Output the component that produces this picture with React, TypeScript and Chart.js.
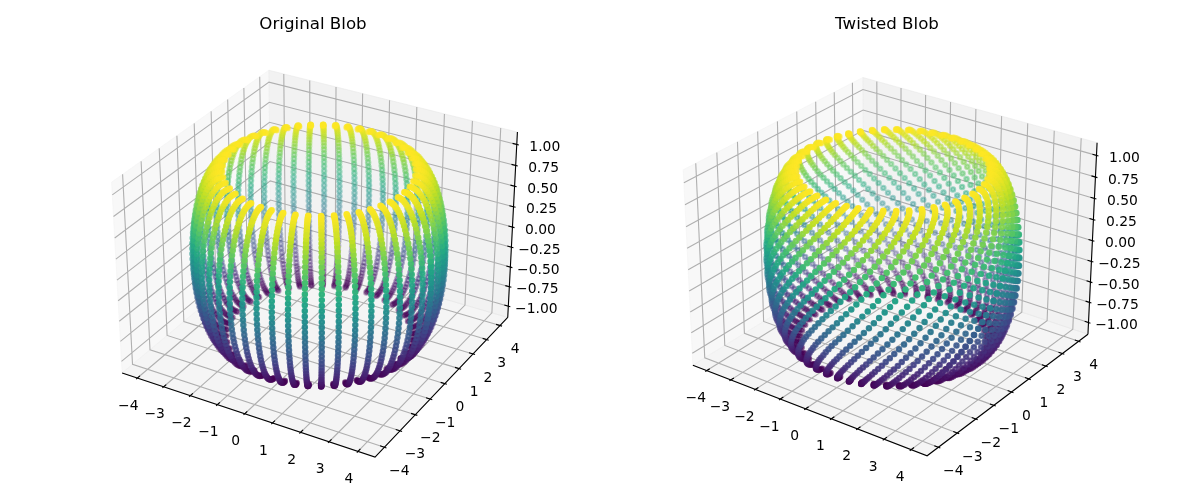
import React, { useEffect, useRef } from "react";
import { Chart, registerables } from "chart.js";

Chart.register(...registerables);

const xTicks = [-4, -3, -2, -1, 0, 1, 2, 3, 4];
const yTicks = [-4, -3, -2, -1, 0, 1, 2, 3, 4];
const zTicks = [-1, -0.75, -0.5, -0.25, 0, 0.25, 0.5, 0.75, 1];
const xTickLabels = ["−4", "−3", "−2", "−1", "0", "1", "2", "3", "4"];
const yTickLabels = ["−4", "−3", "−2", "−1", "0", "1", "2", "3", "4"];
const zTickLabels = ["−1.00", "−0.75", "−0.50", "−0.25", "0.00", "0.25", "0.50", "0.75", "1.00"];

// height of each ring of points, top to bottom
const ringHeights = [
  1, 0.9979, 0.9918, 0.9816, 0.9673, 0.9491, 0.9269, 0.901, 0.8713, 0.8382, 0.8017, 0.7614, 0.7183, 0.6723, 0.6235,
  0.5721, 0.5184, 0.4625, 0.4048, 0.3454, 0.2846, 0.2225, 0.1596, 0.096, 0.0321, -0.0321, -0.096, -0.1596, -0.2225,
  -0.2846, -0.3454, -0.4048, -0.4625, -0.5184, -0.5721, -0.6235, -0.6723, -0.7183, -0.7614, -0.8017, -0.8382, -0.8713,
  -0.901, -0.9269, -0.9491, -0.9673, -0.9816, -0.9918, -0.9979, -1,
];
// radius of each ring
const ringRadii = [
  3, 3.0641, 3.1279, 3.1912, 3.2537, 3.3151, 3.3753, 3.4339, 3.4907, 3.5455, 3.5981, 3.6481, 3.6957, 3.7403, 3.7818,
  3.8202, 3.8551, 3.8866, 3.9144, 3.9385, 3.9587, 3.9749, 3.9872, 3.9954, 3.9995, 3.9995, 3.9954, 3.9872, 3.9749,
  3.9587, 3.9385, 3.9144, 3.8866, 3.8551, 3.8202, 3.7818, 3.7403, 3.6957, 3.6481, 3.5981, 3.5455, 3.4907, 3.4339,
  3.3753, 3.3151, 3.2537, 3.1912, 3.1279, 3.0641, 3,
];
// rotation of each ring in the twisted blob, degrees
const ringTwist = [
  36.0, 35.9, 35.7, 35.3, 34.8, 34.2, 33.4, 32.4, 31.4, 30.2, 28.9, 27.4, 25.9, 24.2, 22.4, 20.6, 18.7, 16.7, 14.6,
  12.4, 10.2, 8.0, 5.7, 3.5, 1.2, -1.2, -3.5, -5.7, -8.0, -10.2, -12.4, -14.6, -16.7, -18.7, -20.6, -22.4, -24.2,
  -25.9, -27.4, -28.9, -30.2, -31.4, -32.4, -33.4, -34.2, -34.8, -35.3, -35.7, -35.9, -36.0,
];
const ringNoTwist = [
  0, 0, 0, 0, 0, 0, 0, 0, 0, 0, 0, 0, 0, 0, 0, 0, 0, 0, 0, 0, 0, 0, 0, 0, 0,
  0, 0, 0, 0, 0, 0, 0, 0, 0, 0, 0, 0, 0, 0, 0, 0, 0, 0, 0, 0, 0, 0, 0, 0, 0,
];
// direction of each meridian, degrees
const meridians = [
  0, 7.35, 14.69, 22.04, 29.39, 36.73, 44.08, 51.43, 58.78, 66.12, 73.47, 80.82, 88.16, 95.51, 102.86, 110.2, 117.55,
  124.9, 132.24, 139.59, 146.94, 154.29, 161.63, 168.98, 176.33, 183.67, 191.02, 198.37, 205.71, 213.06, 220.41,
  227.76, 235.1, 242.45, 249.8, 257.14, 264.49, 271.84, 279.18, 286.53, 293.88, 301.22, 308.57, 315.92, 323.27, 330.61,
  337.96, 345.31, 352.65, 360,
];
const viridis = [
  [68, 1, 84], [72, 36, 117], [65, 68, 135], [53, 95, 141], [42, 120, 142], [33, 145, 140],
  [34, 168, 132], [68, 191, 112], [122, 209, 81], [189, 223, 38], [253, 231, 37],
];

const XY_LIM = 4.4;
const Z_LIM = 1.1;
const XY_PANE = 4.583;
const Z_PANE = 1.1458;
const BOX_XY = 1.3073;
const BOX_Z = 0.9805;
const EYE_DIST = 10;
const CANVAS_W = 574;
const CANVAS_H = 500;
const TITLE_BOTTOM = 40;

type View = {
  title: string;
  left: number;
  elev: number;
  azim: number;
  scale: number;
  cx: number;
  cy: number;
  twist: number[];
  xOff: number[];
  yOff: number[];
  zOff: number[];
};

const views: View[] = [
  { title: "Original Blob", left: 26, elev: 30, azim: -60, scale: 2125, cx: 293, cy: 253, twist: ringNoTwist, xOff: [-9, 28], yOff: [15, 24], zOff: [28, 3] },
  { title: "Twisted Blob", left: 600, elev: 27, azim: -54, scale: 2125, cx: 293, cy: 255, twist: ringTwist, xOff: [-11, 28], yOff: [15, 24], zOff: [28, 3] },
];

function projector(view: View) {
  const e = (view.elev * Math.PI) / 180;
  const a = (view.azim * Math.PI) / 180;
  const w = [Math.cos(e) * Math.cos(a), Math.cos(e) * Math.sin(a), Math.sin(e)];
  const len = Math.hypot(w[0], w[1]);
  const u = [-w[1] / len, w[0] / len, 0];
  const v = [w[1] * u[2] - w[2] * u[1], w[2] * u[0] - w[0] * u[2], w[0] * u[1] - w[1] * u[0]];
  return (x: number, y: number, z: number) => {
    const q = [(x / (2 * XY_LIM)) * BOX_XY, (y / (2 * XY_LIM)) * BOX_XY, (z / (2 * Z_LIM)) * BOX_Z];
    const d = EYE_DIST - (w[0] * q[0] + w[1] * q[1] + w[2] * q[2]);
    return {
      x: (u[0] * q[0] + u[1] * q[1]) / d,
      y: (v[0] * q[0] + v[1] * q[1] + v[2] * q[2]) / d,
      d,
    };
  };
}

function viridisAt(t: number) {
  const p = Math.max(0, Math.min(1, t)) * (viridis.length - 1);
  const i = Math.min(viridis.length - 2, Math.floor(p));
  const f = p - i;
  return viridis[i].map((c, k) => Math.round(c + (viridis[i + 1][k] - c) * f));
}

function buildConfig(view: View) {
  const proj = projector(view);
  const P = XY_PANE;
  const Z = Z_PANE;
  const pt = (x: number, y: number, z: number) => {
    const p = proj(x, y, z);
    return { x: p.x, y: p.y };
  };
  const gap = { x: NaN, y: NaN };

  const raw: { x: number; y: number; d: number; c: number[] }[] = [];
  ringHeights.forEach((z, r) => {
    meridians.forEach((m) => {
      const th = ((m + view.twist[r]) * Math.PI) / 180;
      const p = proj(ringRadii[r] * Math.cos(th), ringRadii[r] * Math.sin(th), z);
      raw.push({ ...p, c: viridisAt((z + 1) / 2) });
    });
  });
  const ds = raw.map((p) => p.d);
  const dMin = Math.min(...ds);
  const dMax = Math.max(...ds);
  raw.sort((a, b) => b.d - a.d);
  const colors = raw.map((p) => {
    const alpha = 1 - (0.7 * (p.d - dMin)) / (dMax - dMin);
    return `rgba(${p.c[0]},${p.c[1]},${p.c[2]},${alpha.toFixed(3)})`;
  });

  const grid: { x: number; y: number }[] = [];
  xTicks.forEach((x) => grid.push(pt(x, -P, -Z), pt(x, P, -Z), pt(x, P, Z), gap));
  yTicks.forEach((y) => grid.push(pt(P, y, -Z), pt(-P, y, -Z), pt(-P, y, Z), gap));
  zTicks.forEach((z) => grid.push(pt(-P, -P, z), pt(-P, P, z), pt(P, P, z), gap));

  const spine = [
    pt(-P, -P, -Z), pt(P, -P, -Z), pt(P, P, -Z), gap,
    pt(P, P, -Z), pt(P, P, Z), gap,
  ];
  const tickOut = 0.0733;
  const tickIn = 0.1467;
  const ticks: { x: number; y: number }[] = [];
  xTicks.forEach((x) => ticks.push(pt(x, -P - tickOut, -Z), pt(x, -P + tickIn, -Z), gap));
  yTicks.forEach((y) => ticks.push(pt(P + tickOut, y, -Z), pt(P - tickIn, y, -Z), gap));
  zTicks.forEach((z) => ticks.push(pt(P + tickOut, P, z), pt(P - tickIn, P, z), gap));

  const lineSet = (label: string, data: any[], color: string, order: number) => ({
    label, data, showLine: true, borderColor: color, borderWidth: 1.11, pointRadius: 0, fill: false, order,
  });
  const paneSet = (label: string, data: any[], color: string) => ({
    label, data, showLine: true, borderColor: color, backgroundColor: color, borderWidth: 1, pointRadius: 0, fill: "shape", order: 4,
  });

  const labels = [
    ...xTicks.map((x, i) => ({ p: pt(x, -P, -Z), t: xTickLabels[i], o: view.xOff })),
    ...yTicks.map((y, i) => ({ p: pt(P, y, -Z), t: yTickLabels[i], o: view.yOff })),
    ...zTicks.map((z, i) => ({ p: pt(P, P, z), t: zTickLabels[i], o: view.zOff })),
  ];

  const tickText = {
    id: "tickText",
    afterDraw(chart: any) {
      const { ctx, scales } = chart;
      ctx.save();
      ctx.fillStyle = "#000";
      ctx.font = '13.89px "DejaVu Sans"';
      ctx.textAlign = "center";
      ctx.textBaseline = "middle";
      labels.forEach((l) => {
        ctx.fillText(l.t, scales.x.getPixelForValue(l.p.x) + l.o[0], scales.y.getPixelForValue(l.p.y) + l.o[1]);
      });
      ctx.restore();
    },
  };

  return {
    type: "scatter" as const,
    plugins: [tickText],
    data: {
      datasets: [
        {
          label: view.title,
          data: raw.map((p) => ({ x: p.x, y: p.y })),
          pointRadius: 2.2,
          pointBorderWidth: 2.08,
          pointBackgroundColor: colors,
          pointBorderColor: colors,
          order: 0,
        },
        lineSet("axes", spine, "#000", 1),
        lineSet("ticks", ticks, "#000", 1),
        lineSet("grid", grid, "rgb(176,176,176)", 2),
        paneSet("x pane", [pt(-P, -P, -Z), pt(-P, P, -Z), pt(-P, P, Z), pt(-P, -P, Z), pt(-P, -P, -Z)], "rgba(242,242,242,0.5)"),
        paneSet("y pane", [pt(-P, P, -Z), pt(P, P, -Z), pt(P, P, Z), pt(-P, P, Z), pt(-P, P, -Z)], "rgba(230,230,230,0.5)"),
        paneSet("z pane", [pt(-P, -P, -Z), pt(P, -P, -Z), pt(P, P, -Z), pt(-P, P, -Z), pt(-P, -P, -Z)], "rgba(236,236,236,0.5)"),
      ],
    },
    options: {
      animation: false as const,
      responsive: false,
      events: [],
      layout: { padding: 0, autoPadding: false },
      plugins: {
        legend: { display: false },
        tooltip: { enabled: false },
        title: {
          display: true,
          text: view.title,
          color: "#000",
          font: { family: '"DejaVu Sans"', size: 16.67, weight: "normal" as const, lineHeight: 1.2 },
          padding: { top: 15, bottom: 5 },
        },
      },
      scales: {
        x: { type: "linear" as const, display: false, min: -view.cx / view.scale, max: (CANVAS_W - view.cx) / view.scale },
        y: { type: "linear" as const, display: false, min: -(CANVAS_H - view.cy) / view.scale, max: (view.cy - TITLE_BOTTOM) / view.scale },
      },
    },
  };
}

function Panel({ view }: { view: View }) {
  const ref = useRef<HTMLCanvasElement>(null);
  useEffect(() => {
    const chart = new Chart(ref.current as HTMLCanvasElement, buildConfig(view) as any);
    return () => chart.destroy();
  }, [view]);
  return (
    <canvas
      ref={ref}
      width={CANVAS_W}
      height={CANVAS_H}
      style={{ position: "absolute", left: view.left, top: 0, width: CANVAS_W, height: CANVAS_H }}
    />
  );
}

export default function App() {
  return (
    <div style={{ position: "absolute", left: 0, top: 0, width: 1200, height: 500, background: "#fff", overflow: "hidden" }}>
      {views.map((v) => (
        <Panel key={v.title} view={v} />
      ))}
    </div>
  );
}
